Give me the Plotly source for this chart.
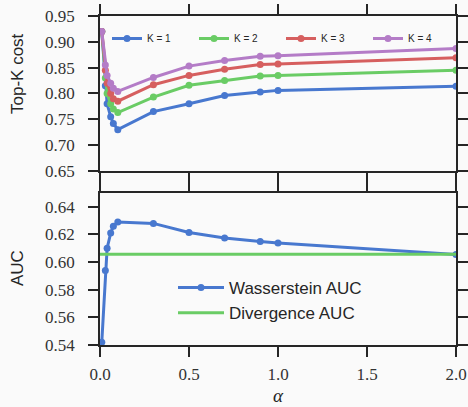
import plotly.graph_objects as go

alpha = [0.01, 0.03, 0.04, 0.06, 0.075, 0.1, 0.3, 0.5, 0.7, 0.9, 1.0, 2.0]
topk_k1 = [0.920, 0.815, 0.780, 0.755, 0.742, 0.730, 0.765, 0.780, 0.796, 0.803, 0.806, 0.814]
topk_k2 = [0.920, 0.830, 0.800, 0.780, 0.770, 0.763, 0.793, 0.816, 0.825, 0.834, 0.835, 0.845]
topk_k3 = [0.920, 0.845, 0.820, 0.800, 0.790, 0.785, 0.817, 0.835, 0.847, 0.856, 0.857, 0.869]
topk_k4 = [0.920, 0.855, 0.835, 0.820, 0.810, 0.804, 0.831, 0.853, 0.864, 0.872, 0.873, 0.887]
wasserstein_auc = [0.542, 0.594, 0.610, 0.621, 0.626, 0.629, 0.628, 0.6214, 0.6175, 0.6149, 0.6139, 0.6055]
divergence_auc = 0.6057
alpha_span = [0.0, 2.0]

k_labels = ["K = 1", "K = 2", "K = 3", "K = 4"]
colors = ["#4878CF", "#6ACC65", "#D65F5F", "#B47CC7"]

BG = "#fafafa"
INK = "#262626"
SERIF = "Liberation Serif"
SANS = "Liberation Sans"

fig = go.Figure()
for lab, ys, c in zip(k_labels, [topk_k1, topk_k2, topk_k3, topk_k4], colors):
    fig.add_trace(go.Scatter(x=alpha, y=ys, mode="lines+markers", name=lab,
                             line=dict(color=c, width=3), marker=dict(color=c, size=7),
                             xaxis="x2", yaxis="y2", legend="legend"))

fig.add_trace(go.Scatter(x=alpha, y=wasserstein_auc, mode="lines+markers", name="Wasserstein AUC",
                         line=dict(color=colors[0], width=3), marker=dict(color=colors[0], size=7),
                         xaxis="x", yaxis="y", legend="legend2"))
fig.add_trace(go.Scatter(x=alpha_span, y=[divergence_auc] * len(alpha_span), mode="lines",
                         name="Divergence AUC", line=dict(color=colors[1], width=3),
                         xaxis="x", yaxis="y", legend="legend2"))

tick_font = dict(family=SERIF, size=17, color="#333333")
axis_common = dict(showline=True, linecolor=INK, linewidth=1.5, mirror="ticks",
                   ticks="outside", ticklen=10, tickwidth=1.5, tickcolor=INK,
                   showgrid=False, zeroline=False, automargin=False, tickfont=tick_font)

L, R, T, B = 100, 12, 16, 62
W, H = 468, 407

fig.update_layout(
    width=W, height=H,
    margin=dict(l=L, r=R, t=T, b=B, autoexpand=False),
    paper_bgcolor=BG, plot_bgcolor=BG,
    font=dict(family=SERIF, size=17, color="#333333"),
    showlegend=True,
    xaxis=dict(domain=[0, 1], range=[0, 2.0], tickvals=[0, 0.5, 1.0, 1.5, 2.0],
               ticktext=["0.0", "0.5", "1.0", "1.5", "2.0"], anchor="y",
               ticklabelstandoff=3, **axis_common),
    xaxis2=dict(domain=[0, 1], range=[0, 2.0], tickvals=[0, 0.5, 1.0, 1.5, 2.0],
                showticklabels=False, anchor="y2", matches="x", **axis_common),
    yaxis=dict(domain=[0, 0.462], range=[0.54, 0.65],
               tickvals=[0.54, 0.56, 0.58, 0.60, 0.62, 0.64],
               ticktext=["0.54", "0.56", "0.58", "0.60", "0.62", "0.64"],
               anchor="x", ticklabelstandoff=10, **axis_common),
    yaxis2=dict(domain=[0.529, 1], range=[0.65, 0.95],
                tickvals=[0.65, 0.70, 0.75, 0.80, 0.85, 0.90, 0.95],
                ticktext=["0.65", "0.70", "0.75", "0.80", "0.85", "0.90", "0.95"],
                anchor="x2", ticklabelstandoff=10, **axis_common),
    legend=dict(orientation="h", x=107 / W, y=1 - 24 / H, xanchor="left", yanchor="top",
                xref="container", yref="container", bgcolor="rgba(0,0,0,0)",
                entrywidth=42, entrywidthmode="pixels",
                font=dict(family=SANS, size=10, color=INK)),
    legend2=dict(orientation="v", x=173 / W, y=1 - 270 / H, xanchor="left", yanchor="top",
                 xref="container", yref="container", bgcolor="rgba(0,0,0,0)", itemwidth=46,
                 font=dict(family=SANS, size=17, color=INK), tracegroupgap=6),
    annotations=[
        dict(text="Top-K cost", x=17, y=74, showarrow=False, textangle=-90,
             xanchor="center", yanchor="middle",
             font=dict(family=SANS, size=17, color=INK)),
        dict(text="AUC", x=17, y=268, showarrow=False, textangle=-90,
             xanchor="center", yanchor="middle",
             font=dict(family=SANS, size=17, color=INK)),
        dict(text="<i>α</i>", x=278, y=395, showarrow=False,
             xanchor="center", yanchor="middle",
             font=dict(family=SERIF, size=19, color=INK)),
    ],
)

pw, ph = W - L - R, H - T - B
for a in fig.layout.annotations:
    a.xref = "paper"
    a.yref = "paper"
    a.x = (a.x - L) / pw
    a.y = (H - B - a.y) / ph

fig.write_html("out.html", config={"displayModeBar": False},
               post_script="document.body.style.margin='0';document.body.style.background='#fafafa';")
